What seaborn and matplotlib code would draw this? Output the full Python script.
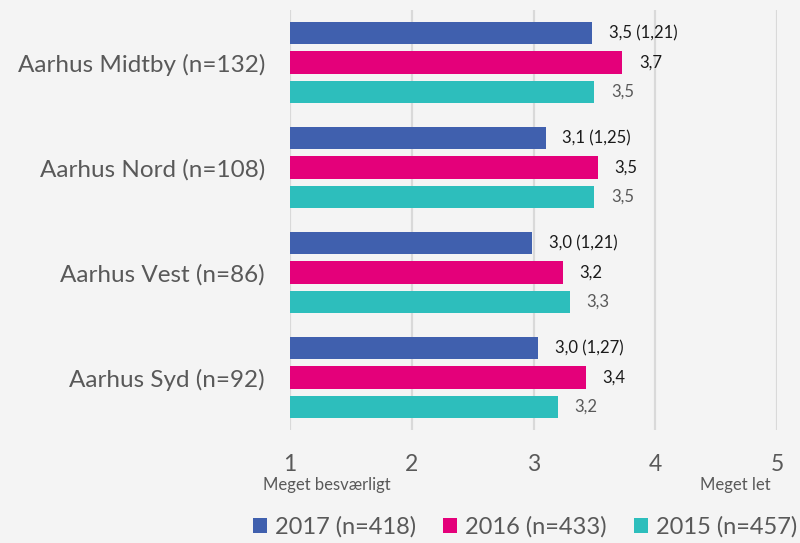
import pandas as pd
import numpy as np
import seaborn as sns
import matplotlib.pyplot as plt

# data
regions = ["Aarhus Midtby (n=132)", "Aarhus Nord (n=108)", "Aarhus Vest (n=86)", "Aarhus Syd (n=92)"]
years = ["2017 (n=418)", "2016 (n=433)", "2015 (n=457)"]
v2017 = [3.48, 3.10, 2.99, 3.04]
v2016 = [3.73, 3.53, 3.24, 3.43]
v2015 = [3.50, 3.50, 3.30, 3.20]
sd2017 = ["1,21", "1,25", "1,21", "1,27"]
ticks = [1, 2, 3, 4, 5]
end_labels = ["Meget besværligt", "Meget let"]

colors = ["#4060AE", "#E4007A", "#2DBEBC"]
label_colors = ["#1A1A1A", "#1A1A1A", "#595959"]
bg = "#F4F4F4"

df = pd.DataFrame({
    "region": regions * 3,
    "year": np.repeat(years, len(regions)),
    "value": v2017 + v2016 + v2015,
})

sns.set_style("white")
plt.rcParams["font.family"] = ["Lato", "DejaVu Sans"]

fig = plt.figure(figsize=(8, 5.43), dpi=100, facecolor=bg)
ax = fig.add_axes([290 / 800, 1 - 430 / 543, 487 / 800, 420 / 543])
ax.set_facecolor(bg)

sns.barplot(data=df, x="value", y="region", hue="year", orient="h",
            palette=colors, saturation=1, width=0.83, gap=0.24, ax=ax, legend=True,
            edgecolor="none", zorder=3)

def fmt(v):
    return f"{v:.1f}".replace(".", ",")

for i, cont in enumerate(ax.containers):
    vals = [v2017, v2016, v2015][i]
    if i == 0:
        labs = [f"{fmt(v)} ({s})" for v, s in zip(vals, sd2017)]
    else:
        labs = [fmt(v) for v in vals]
    ax.bar_label(cont, labels=labs, padding=12, fontsize=12,
                 color=label_colors[i], clip_on=False)

ax.set_xlim(1, 5)
ax.set_xticks(ticks)
ax.set_xticklabels([str(t) for t in ticks])
ax.set_xlabel("")
ax.set_ylabel("")
ax.grid(axis="x", color="#D9D9D9", lw=1.6, zorder=0)
ax.grid(axis="y", visible=False)
ax.set_axisbelow(True)
for s in ax.spines.values():
    s.set_visible(False)
ax.tick_params(axis="x", length=0, pad=17, labelsize=16.5, labelcolor="#595959")
ax.tick_params(axis="y", length=0, pad=18, labelsize=17.5, labelcolor="#595959")

# scale end descriptions under 1 and 5
ax.annotate(end_labels[0], xy=(1, 0), xycoords=("data", "axes fraction"),
            xytext=(37, -55), textcoords="offset pixels", ha="center", va="center",
            fontsize=12, color="#595959", annotation_clip=False)
ax.annotate(end_labels[1], xy=(5, 0), xycoords=("data", "axes fraction"),
            xytext=(-42, -55), textcoords="offset pixels", ha="center", va="center",
            fontsize=12, color="#595959", annotation_clip=False)

handles, labels = ax.get_legend_handles_labels()
ax.legend_.remove()
fig.legend(handles, labels, loc="center", bbox_to_anchor=(525 / 800, 1 - 527 / 543),
           ncol=3, frameon=False, fontsize=17, labelcolor="#595959",
           handlelength=0.58, handleheight=0.58, handletextpad=0.35, columnspacing=1.15)

fig.savefig("out.png", dpi=100, facecolor=bg)
